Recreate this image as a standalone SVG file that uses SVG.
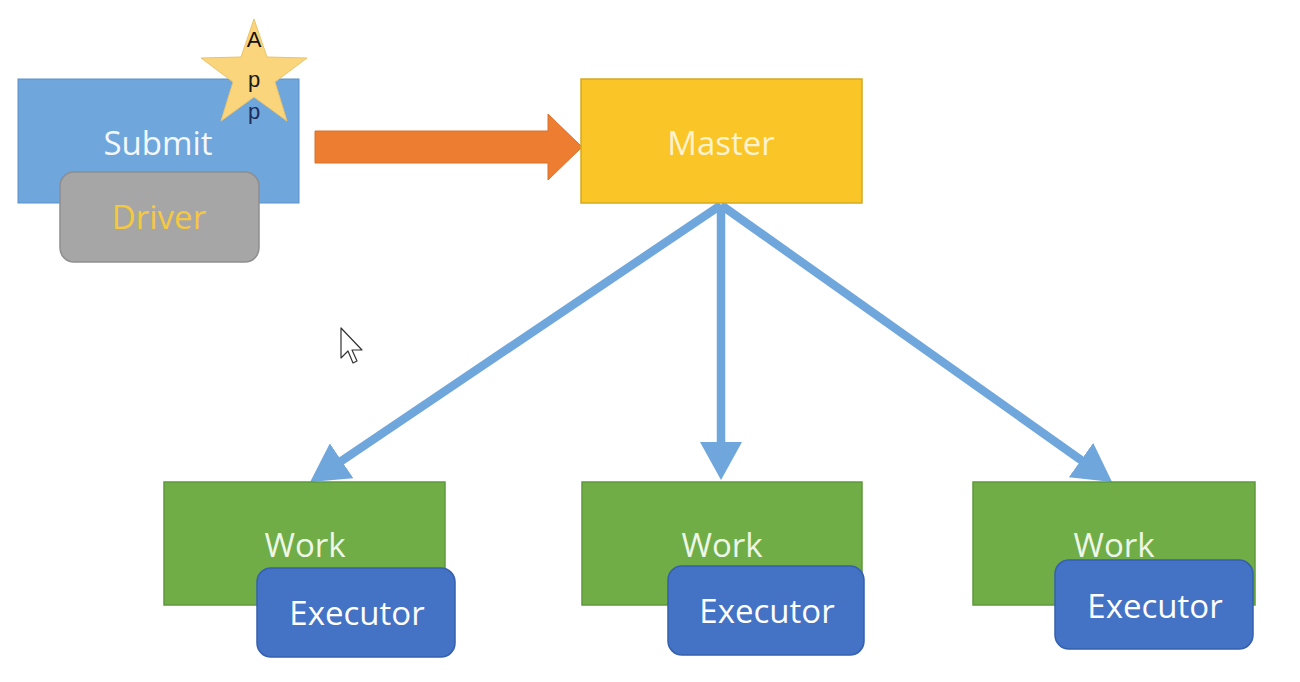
<svg xmlns="http://www.w3.org/2000/svg" width="1300" height="682" viewBox="0 0 1300 682">
<style>
.lbl{font-family:"Open Sans","Liberation Sans",sans-serif;font-size:33px;text-anchor:middle}
.work{fill:#70AD47;stroke:#5E9A3A;stroke-width:1.5}
.exec{fill:#4472C4;stroke:#3560AE;stroke-width:1.5}
.conn{stroke:#6FA6DC;stroke-width:8.5;fill:none}
.star{font-family:"Liberation Sans",sans-serif;font-size:22px;text-anchor:middle}
</style>
<defs>
<marker id="ah" viewBox="0 0 38 42" refX="28" refY="21" markerWidth="38" markerHeight="42" markerUnits="userSpaceOnUse" orient="auto">
<path d="M0,0 L38,21 L0,42 z" fill="#6FA6DC"/>
</marker>
</defs>
<rect width="1300" height="682" fill="#FFFFFF"/>
<g id="connectors">
<path d="M315,131 H548 V114 L582,147 L548,180 V163 H315 Z" fill="#ED7D31" stroke="#D9702A" stroke-width="1"/>
<line class="conn" x1="721" y1="205" x2="318.4" y2="476.4" marker-end="url(#ah)"/>
<line class="conn" x1="721" y1="205" x2="721" y2="470" marker-end="url(#ah)"/>
<line class="conn" x1="721" y1="205" x2="1103.9" y2="476.2" marker-end="url(#ah)"/>
</g>
<g id="submit">
<rect x="18" y="79" width="281" height="124" fill="#6FA6DC" stroke="#5B91C8" stroke-width="1"/>
<text class="lbl" x="158" y="155" fill="#F4F8FD">Submit</text>
</g>
<g id="app">
<polygon points="254,19 267,57 307,58 275,82 287,121 254,97 221,121 233,82 201,58 241,57" fill="#FAD57C" stroke="#E9C46C" stroke-width="1"/>
<text class="star" x="254" y="47" fill="#111111">A</text>
<text class="star" x="254" y="87" fill="#1a1a1a">p</text>
<text class="star" x="254" y="119" fill="#1F2D5A">p</text>
</g>
<g id="driver">
<rect x="60" y="172" width="199" height="90" rx="14" fill="#A6A6A6" stroke="#8E8E8E" stroke-width="1.5"/>
<text class="lbl" x="159" y="229" fill="#F5C842">Driver</text>
</g>
<g id="master">
<rect x="581" y="79" width="281" height="124" fill="#F9C527" stroke="#D6A820" stroke-width="1.5"/>
<text class="lbl" x="721" y="155" fill="#FFF2CF">Master</text>
</g>
<g id="work1">
<rect class="work" x="164" y="482" width="281" height="123"/>
<text class="lbl" x="305" y="557" fill="#EEF6E8">Work</text>
</g>
<g id="executor1">
<rect class="exec" x="257" y="568" width="198" height="89" rx="14"/>
<text class="lbl" x="357" y="625" fill="#FFFFFF">Executor</text>
</g>
<g id="work2">
<rect class="work" x="582" y="482" width="280" height="123"/>
<text class="lbl" x="722" y="557" fill="#EEF6E8">Work</text>
</g>
<g id="executor2">
<rect class="exec" x="668" y="566" width="196" height="89" rx="14"/>
<text class="lbl" x="767" y="623" fill="#FFFFFF">Executor</text>
</g>
<g id="work3">
<rect class="work" x="973" y="482" width="282" height="123"/>
<text class="lbl" x="1114" y="557" fill="#EEF6E8">Work</text>
</g>
<g id="executor3">
<rect class="exec" x="1055" y="560" width="198" height="89" rx="14"/>
<text class="lbl" x="1155" y="618" fill="#FFFFFF">Executor</text>
</g>
<polygon points="341,328 341,358 348,351 353,363 357,361 352,350 362,350" fill="#FFFFFF" stroke="#333333" stroke-width="1.2" stroke-linejoin="round"/>
</svg>
